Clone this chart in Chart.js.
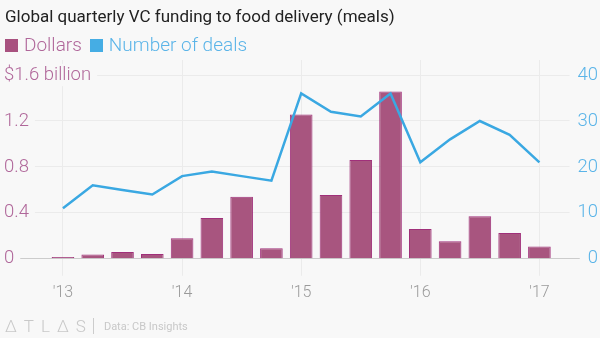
<!DOCTYPE html>
<html>
<head>
<meta charset="utf-8">
<script src="https://cdn.jsdelivr.net/npm/chart.js@4"></script>
<style>
  html, body { margin: 0; padding: 0; background: #f8f8f8; }
  body { width: 600px; height: 338px; position: relative; overflow: hidden; font-family: Roboto, sans-serif; }
  #title { position: absolute; left: 5px; top: 6px; font-size: 17px; color: #222; white-space: nowrap; }
  #legend { position: absolute; left: 5px; top: 33px; font-size: 19px; white-space: nowrap; font-weight: 300; }
  #legend span { margin-right: 8px; }
  #legend i { display: inline-block; width: 13px; height: 13px; margin-right: 6px; vertical-align: -1px; }
  #foot { position: absolute; left: 5px; top: 316px; font-size: 11px; color: #c8c8c8; white-space: nowrap; }
  #foot .atlas { letter-spacing: 7px; font-size: 17px; font-weight: 300; vertical-align: -2px; }
  #foot .sep { display: inline-block; width: 1px; height: 16px; background: #ccc; margin: 0 10px 0 0; vertical-align: -4px; }
  #wrap { position: absolute; left: 0; top: 0; width: 600px; height: 338px; }
</style>
</head>
<body>
<div id="wrap"><canvas id="c"></canvas></div>
<div id="title">Global quarterly VC funding to food delivery (meals)</div>
<div id="legend"><span style="color:#b0679a"><i style="background:#a8517f"></i>Dollars</span><span style="color:#5ab4e8"><i style="background:#45ade4"></i>Number of deals</span></div>
<div id="foot"><span class="atlas">ΔTLΔS</span><span class="sep"></span>Data: CB Insights</div>
<script>
// quarters Q1 2013 .. Q1 2017
const quarters = ['Q1 2013','Q2 2013','Q3 2013','Q4 2013','Q1 2014','Q2 2014','Q3 2014','Q4 2014',
  'Q1 2015','Q2 2015','Q3 2015','Q4 2015','Q1 2016','Q2 2016','Q3 2016','Q4 2016','Q1 2017'];
const dollars = [0.015, 0.038, 0.059, 0.041, 0.18, 0.356, 0.54, 0.091, 1.257, 0.555, 0.861, 1.456, 0.26, 0.152, 0.371, 0.225, 0.108];
const deals = [11, 16, 15, 14, 18, 19, 18, 17, 36, 32, 31, 36, 21, 26, 30, 27, 21];
const xTickPos = [0, 4, 8, 12, 16];
const xTickLabels = ["'13", "'14", "'15", "'16", "'17"];
const leftTicks = [0, 0.4, 0.8, 1.2, 1.6];
const rightTicks = [0, 10, 20, 30, 40];

const BG = '#f8f8f8';
const pts = (arr) => arr.map((v, i) => ({ x: i, y: v }));

new Chart(document.getElementById('c'), {
  type: 'bar',
  data: {
    datasets: [
      {
        type: 'line',
        label: 'Number of deals',
        data: pts(deals),
        yAxisID: 'y2',
        borderColor: '#3aa8e2',
        borderWidth: 2.5,
        pointRadius: 0,
        tension: 0,
        order: 0,
      },
      {
        label: 'Dollars',
        data: pts(dollars),
        yAxisID: 'y',
        backgroundColor: '#a8557f',
        borderColor: '#a0307a',
        borderWidth: 1,
        categoryPercentage: 1,
        barPercentage: 0.76,
        order: 1,
      },
    ],
  },
  options: {
    responsive: true,
    maintainAspectRatio: false,
    animation: false,
    layout: { padding: { left: 4, right: 0, top: 60, bottom: 27 } },
    plugins: { legend: { display: false }, tooltip: { enabled: false } },
    scales: {
      x: {
        type: 'linear',
        offset: false,
        min: -1.98,
        max: 17.9,
        afterBuildTicks: (s) => { s.ticks = xTickPos.map((v) => ({ value: v })); },
        grid: { offset: false, color: '#ebebeb', tickLength: 17, drawTicks: true },
        border: { display: false },
        ticks: {
          color: '#9a9a9a',
          font: { family: 'Roboto', size: 16, weight: 300 },
          padding: 8,
          callback: (v) => xTickLabels[xTickPos.indexOf(v)] ?? '',
        },
      },
      y: {
        position: 'left',
        min: 0,
        max: 1.731,
        afterBuildTicks: (s) => { s.ticks = leftTicks.map((v) => ({ value: v })); },
        grid: {
          drawTicks: false,
          color: (c) => (c.tick && c.tick.value === 0 ? '#cccccc' : '#ebebeb'),
        },
        border: { display: false },
        ticks: {
          mirror: true,
          padding: 0,
          color: '#b0679a',
          font: { family: 'Roboto', size: 18.5, weight: 300 },
          showLabelBackdrop: true,
          backdropColor: BG,
          backdropPadding: { left: 4, right: 6, top: 0, bottom: 0 },
          callback: (v) => (v === 1.6 ? '$1.6 billion' : String(v)),
        },
      },
      y2: {
        position: 'right',
        min: 0,
        max: 43.28,
        afterBuildTicks: (s) => { s.ticks = rightTicks.map((v) => ({ value: v })); },
        grid: { display: false, drawTicks: false },
        border: { display: false },
        ticks: {
          mirror: true,
          padding: 2,
          color: '#5ab4e8',
          font: { family: 'Roboto', size: 18.5, weight: 300 },
          showLabelBackdrop: true,
          backdropColor: BG,
          backdropPadding: { left: 8, right: 2, top: 0, bottom: 0 },
        },
      },
    },
  },
});
</script>
</body>
</html>
